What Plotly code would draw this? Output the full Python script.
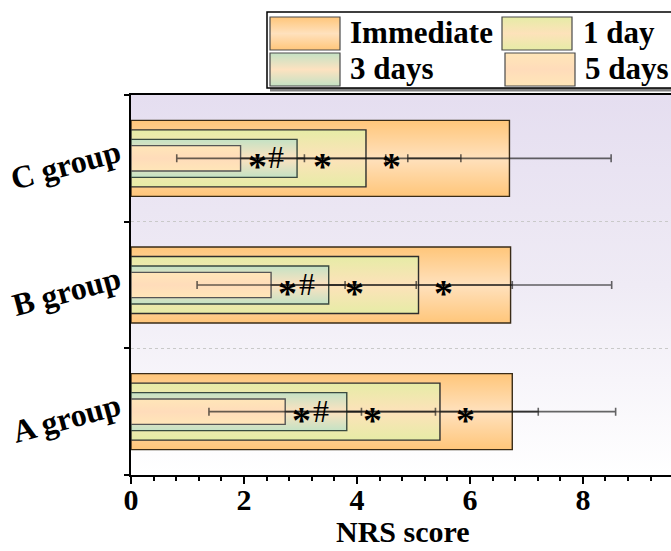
import base64
import plotly.graph_objects as go

# NRS pain scores (mean and SD) per group and time point
groups = ["A group", "B group", "C group"]
series = ["Immediate", "1 day", "3 days", "5 days"]

immediate = [6.75, 6.72, 6.70]
immediate_sd = [1.83, 1.79, 1.80]
day1 = [5.47, 5.09, 4.16]
day1_sd = [1.74, 1.66, 1.68]
day3 = [3.82, 3.50, 2.94]
day3_sd = [1.57, 1.55, 1.57]
day5 = [2.73, 2.48, 1.94]
day5_sd = [1.35, 1.31, 1.13]

# significance markers shown to the right of each bar
day1_mark = ["*", "*", "*"]
day3_mark = ["*", "*", "*"]
day5_mark = ["*#", "*#", "*#"]

x_title = "NRS score"

means = [immediate, day1, day3, day5]
sds = [immediate_sd, day1_sd, day3_sd, day5_sd]
marks = [None, day1_mark, day3_mark, day5_mark]

# style per series: bar thickness, gradient edge colour, gradient centre colour, outline
styles = [
    dict(h=0.60, edge="#ffc67a", center="#ffe1bd", line="#3a2c18"),
    dict(h=0.45, edge="#e6eca6", center="#fde2ba", line="#2e2e2e"),
    dict(h=0.30, edge="#c4e2c4", center="#fde2c0", line="#3a4a40"),
    dict(h=0.20, edge="#ffe6b8", center="#ffdcba", line="#555555"),
]

FONT = "Liberation Serif, Times New Roman, serif"

fig = go.Figure()

for s_name, vals, errs, st in zip(series, means, sds, styles):
    half = st["h"] / 2
    for gi, v in enumerate(vals):
        fig.add_trace(go.Scatter(
            x=[0, v, v, 0, 0],
            y=[gi - half, gi - half, gi + half, gi + half, gi - half],
            mode="lines",
            fill="toself",
            line=dict(color=st["line"], width=1.4),
            fillgradient=dict(
                type="vertical",
                colorscale=[[0, st["edge"]], [0.5, st["center"]], [1, st["edge"]]],
            ),
            hoverinfo="skip",
            showlegend=False,
        ))
    fig.add_trace(go.Scatter(
        x=vals,
        y=list(range(len(groups))),
        mode="markers",
        marker=dict(size=1, color="rgba(0,0,0,0)"),
        error_x=dict(type="data", array=errs, visible=True,
                     color="rgba(20,20,20,0.65)", thickness=1.6, width=4),
        hoverinfo="skip",
        showlegend=False,
    ))

# significance annotations
STAR = dict(family=FONT, size=38, color="black", weight="bold")
HASH = dict(family=FONT, size=32, color="black")
for vals, mk in zip(means, marks):
    if mk is None:
        continue
    for gi, (v, m) in enumerate(zip(vals, mk)):
        xpos = v + 0.45
        if m == "*#":
            fig.add_annotation(x=xpos, y=gi, text="*", showarrow=False, xshift=-9, yshift=-8, font=STAR)
            fig.add_annotation(x=xpos, y=gi, text="#", showarrow=False, xshift=10, yshift=1, font=HASH)
        else:
            fig.add_annotation(x=xpos, y=gi, text="*", showarrow=False, yshift=-8, font=STAR)


def svg_uri(svg):
    return "data:image/svg+xml;base64," + base64.b64encode(svg.encode()).decode()


def vgrad(stops):
    st = "".join(f'<stop offset="{o}" stop-color="{c}"/>' for o, c in stops)
    return svg_uri(
        '<svg xmlns="http://www.w3.org/2000/svg" width="100" height="100" viewBox="0 0 100 100" '
        'preserveAspectRatio="none"><defs><linearGradient id="g" x1="0" y1="0" x2="0" y2="1">'
        + st + '</linearGradient></defs><rect width="100" height="100" fill="url(#g)"/></svg>'
    )


# plot area geometry (pixels) used to place legend items in paper coordinates
W, H = 671, 551
L, R, T, B = 131, 0, 95, 76
PW, PH = W - L - R, H - T - B


def px(x):
    return (x - L) / PW


def py(y):
    return (H - B - y) / PH


images = [dict(source=vgrad([(0, "#e5def0"), (0.5, "#efebf5"), (1, "#ffffff")]),
               xref="paper", yref="paper", x=0, y=1, sizex=1, sizey=1,
               xanchor="left", yanchor="top", sizing="stretch", layer="below")]

shapes = [
    # legend frame with a drop shadow along its lower edge
    dict(type="rect", xref="paper", yref="paper", x0=px(270), x1=px(690), y0=py(91.5), y1=py(88),
         fillcolor="#808080", line=dict(width=0), layer="above"),
    dict(type="rect", xref="paper", yref="paper", x0=px(267), x1=px(688), y0=py(88), y1=py(12),
         line=dict(color="black", width=1.5), layer="above"),
]

legend_items = [
    (series[0], 270, 17, 348),
    (series[1], 502, 17, 581),
    (series[2], 270, 53, 348),
    (series[3], 505, 53, 583),
]
for (name, sx, sy, tx), st in zip(legend_items, styles):
    sw, sh = 70, 33
    images.append(dict(source=vgrad([(0, st["edge"]), (0.5, st["center"]), (1, st["edge"])]),
                       xref="paper", yref="paper", x=px(sx), y=py(sy),
                       sizex=sw / PW, sizey=sh / PH, xanchor="left", yanchor="top",
                       sizing="stretch", layer="above"))
    shapes.append(dict(type="rect", xref="paper", yref="paper",
                       x0=px(sx), x1=px(sx + sw), y0=py(sy + sh), y1=py(sy),
                       line=dict(color="#4a4a4a", width=1.2), layer="above"))
    fig.add_annotation(xref="paper", yref="paper", x=px(tx), y=py(sy + sh / 2 - 1),
                       xanchor="left", yanchor="middle", text=name, showarrow=False,
                       font=dict(family=FONT, size=31, color="black", weight="bold"))

# x-axis title
fig.add_annotation(xref="paper", yref="paper", x=px(403), y=py(531),
                   xanchor="center", yanchor="middle", text=x_title, showarrow=False,
                   font=dict(family=FONT, size=30, color="black", weight="bold"))

fig.update_layout(
    width=W, height=H,
    margin=dict(l=L, r=R, t=T, b=B),
    paper_bgcolor="white",
    plot_bgcolor="rgba(0,0,0,0)",
    images=images,
    shapes=shapes,
    showlegend=False,
    font=dict(family=FONT, color="black"),
)

fig.update_xaxes(
    range=[0, 9.56], dtick=2, tick0=0,
    showgrid=False, zeroline=False,
    showline=True, linecolor="black", linewidth=2, mirror=True,
    ticks="outside", ticklen=7, tickwidth=2, tickcolor="black",
    minor=dict(dtick=0.4, ticks="outside", ticklen=4, tickwidth=1.5, tickcolor="black"),
    tickfont=dict(family=FONT, size=30, color="black", weight="bold"),
    ticklabelstandoff=-10,
)

fig.update_yaxes(
    range=[-0.5, 2.5],
    tickvals=list(range(len(groups))), ticktext=groups,
    ticks="", tickangle=-15,
    ticklabelshift=-8, ticklabelstandoff=4,
    showgrid=False, zeroline=False,
    showline=True, linecolor="black", linewidth=2,
    minor=dict(tickvals=[-0.5, 0.5, 1.5, 2.5], ticks="outside", ticklen=5, tickwidth=1.5,
               tickcolor="black", showgrid=True, gridcolor="#c9c9c9", griddash="dot", gridwidth=1),
    tickfont=dict(family=FONT, size=32, color="black", weight="bold"),
)

fig.write_html("out.html")
